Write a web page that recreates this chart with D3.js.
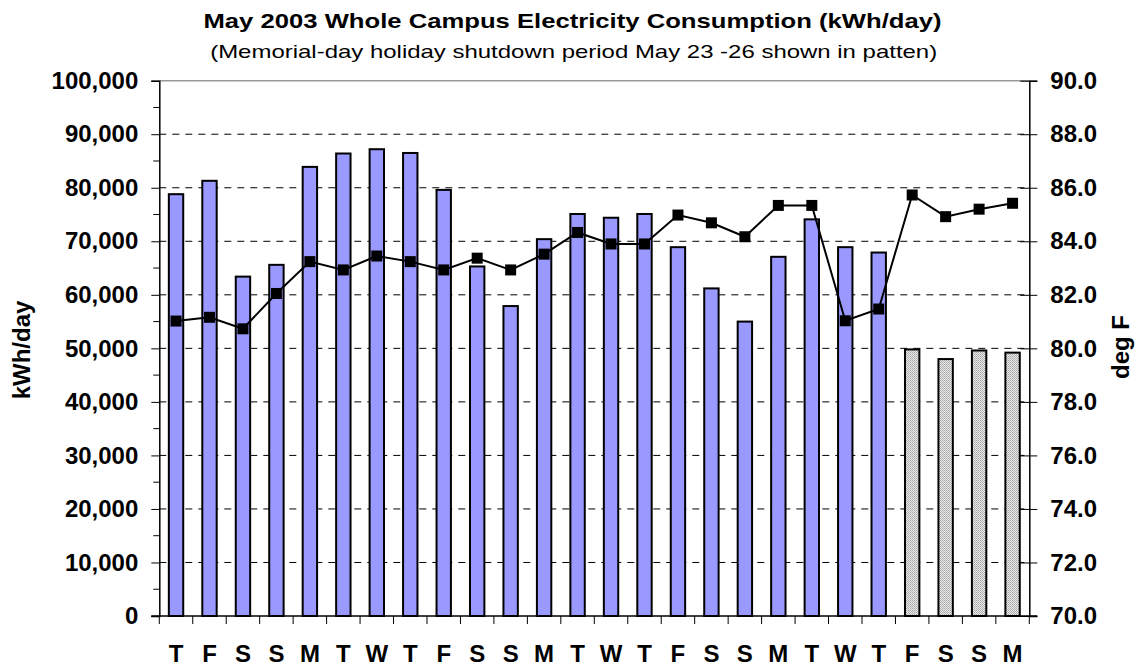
<!DOCTYPE html>
<html><head><meta charset="utf-8">
<script src="https://cdn.jsdelivr.net/npm/d3@7"></script>
<style>
html,body{margin:0;padding:0;background:#fff;}
svg{display:block;font-family:"Liberation Sans",Arial,sans-serif;}
</style></head>
<body>
<svg id="chart" width="1138" height="666"></svg>
<script>
const days = ["T","F","S","S","M","T","W","T","F","S","S","M","T","W","T","F","S","S","M","T","W","T","F","S","S","M"];
const kwh = [78800,81300,63400,65600,83900,86400,87200,86500,79600,65300,57900,70400,75100,74400,75100,68900,61200,55000,67100,74100,68900,67900,49800,48000,49600,49200];
const holiday = [false,false,false,false,false,false,false,false,false,false,false,false,false,false,false,false,false,false,false,false,false,false,true,true,true,true];
const tempF = [81.02,81.16,80.73,82.05,83.24,82.93,83.45,83.24,82.93,83.37,82.93,83.52,84.33,83.90,83.90,84.98,84.69,84.17,85.34,85.34,81.03,81.47,85.73,84.92,85.20,85.42];
const leftTicks = [0,10000,20000,30000,40000,50000,60000,70000,80000,90000,100000];
const rightTicks = [70,72,74,76,78,80,82,84,86,88,90];

const svg = d3.select("#chart");
const L = 159.3, R = 1029.3, T = 80.7, B = 616;
const idx = d3.range(days.length);
const x = d3.scaleBand().domain(idx).range([L, R]).paddingInner(0.57).paddingOuter(0.285);
const xb = d3.scaleBand().domain(idx).range([L, R]);
const y = d3.scaleLinear().domain([0,100000]).range([B, T]);
const y2 = d3.scaleLinear().domain([70,90]).range([B, T]);

const defs = svg.append("defs");
const pat = defs.append("pattern").attr("id","hatch").attr("width",2).attr("height",2).attr("patternUnits","userSpaceOnUse");
pat.append("rect").attr("width",2).attr("height",2).attr("fill","#e8e8e8");
pat.append("rect").attr("x",0).attr("y",0).attr("width",1).attr("height",1).attr("fill","#a8a8a8");
pat.append("rect").attr("x",1).attr("y",1).attr("width",1).attr("height",1).attr("fill","#b8b8b8");

// titles
svg.append("text").attr("x",572.5).attr("y",28).attr("text-anchor","middle")
  .attr("font-size",21).attr("font-weight","bold").attr("textLength",738).attr("lengthAdjust","spacingAndGlyphs")
  .text("May 2003 Whole Campus Electricity Consumption (kWh/day)");
svg.append("text").attr("x",573.7).attr("y",58).attr("text-anchor","middle")
  .attr("font-size",18.5).attr("textLength",727).attr("lengthAdjust","spacingAndGlyphs")
  .text("(Memorial-day holiday shutdown period May 23 -26 shown in patten)");

// grid lines
svg.append("g").selectAll("line").data(leftTicks.filter(d=>d>0 && d<100000)).join("line")
  .attr("x1",L).attr("x2",R).attr("y1",d=>y(d)).attr("y2",d=>y(d))
  .attr("stroke","#000").attr("stroke-width",1).attr("stroke-dasharray","7,6");
// top border
svg.append("line").attr("x1",L).attr("x2",R).attr("y1",T).attr("y2",T).attr("stroke","#999").attr("stroke-width",1.5);

// bars
svg.append("g").selectAll("rect").data(idx).join("rect")
  .attr("x",i=>x(i)).attr("width",x.bandwidth())
  .attr("y",i=>y(kwh[i])).attr("height",i=>B-y(kwh[i]))
  .attr("fill",i=>holiday[i]?"url(#hatch)":"#9999FF")
  .attr("stroke","#000").attr("stroke-width",2);

// left axis
const gl = svg.append("g").attr("transform",`translate(${L},0)`);
gl.call(d3.axisLeft(y).tickValues(leftTicks).tickSize(8).tickPadding(13).tickFormat(d3.format(",")));
gl.append("g").selectAll("line").data(d3.range(5000,100000,10000)).join("line")
  .attr("x1",-6).attr("x2",0).attr("y1",d=>y(d)).attr("y2",d=>y(d)).attr("stroke","#000");
gl.select(".domain").attr("stroke","#000").attr("stroke-width",1.5);
gl.selectAll(".tick line").attr("stroke","#000");
gl.selectAll(".tick text").attr("font-size",24).attr("font-weight","bold").attr("fill","#000")
  .attr("font-family","Liberation Sans, Arial, sans-serif");

// right axis
const gr = svg.append("g").attr("transform",`translate(${R},0)`);
gr.call(d3.axisRight(y2).tickValues(rightTicks).tickSize(8).tickPadding(13).tickFormat(d3.format(".1f")));
gr.select(".domain").attr("stroke","#000").attr("stroke-width",1.5);
gr.selectAll(".tick line").attr("x1",-9).attr("stroke","#000");
gr.selectAll(".tick text").attr("font-size",24).attr("font-weight","bold").attr("fill","#000")
  .attr("font-family","Liberation Sans, Arial, sans-serif");

// bottom axis
const gb = svg.append("g").attr("transform",`translate(0,${B})`);
gb.append("line").attr("x1",L-8).attr("x2",R+8).attr("stroke","#000").attr("stroke-width",1.5);
gb.selectAll(".bt").data(d3.range(days.length+1)).join("line").attr("class","bt")
  .attr("x1",i=>L+i*xb.step()).attr("x2",i=>L+i*xb.step()).attr("y1",0).attr("y2",8).attr("stroke","#000");
gb.selectAll(".bl").data(idx).join("text").attr("class","bl")
  .attr("x",i=>xb(i)+xb.bandwidth()/2).attr("y",45.7).attr("text-anchor","middle")
  .attr("font-size",24).attr("font-weight","bold").text(i=>days[i]);

// temperature line
const line = d3.line().x(i=>xb(i)+xb.bandwidth()/2).y(i=>y2(tempF[i]));
svg.append("path").datum(idx).attr("d",line).attr("fill","none").attr("stroke","#000").attr("stroke-width",2);
svg.append("g").selectAll("rect").data(idx).join("rect")
  .attr("x",i=>xb(i)+xb.bandwidth()/2-5.5).attr("y",i=>y2(tempF[i])-5.5)
  .attr("width",11).attr("height",11).attr("fill","#000");

// axis titles
svg.append("text").attr("transform","translate(30,350) rotate(-90)").attr("text-anchor","middle")
  .attr("font-size",24).attr("font-weight","bold").text("kWh/day");
svg.append("text").attr("transform","translate(1129,347) rotate(-90)").attr("text-anchor","middle")
  .attr("font-size",24).attr("font-weight","bold").text("deg F");
</script>
</body></html>
